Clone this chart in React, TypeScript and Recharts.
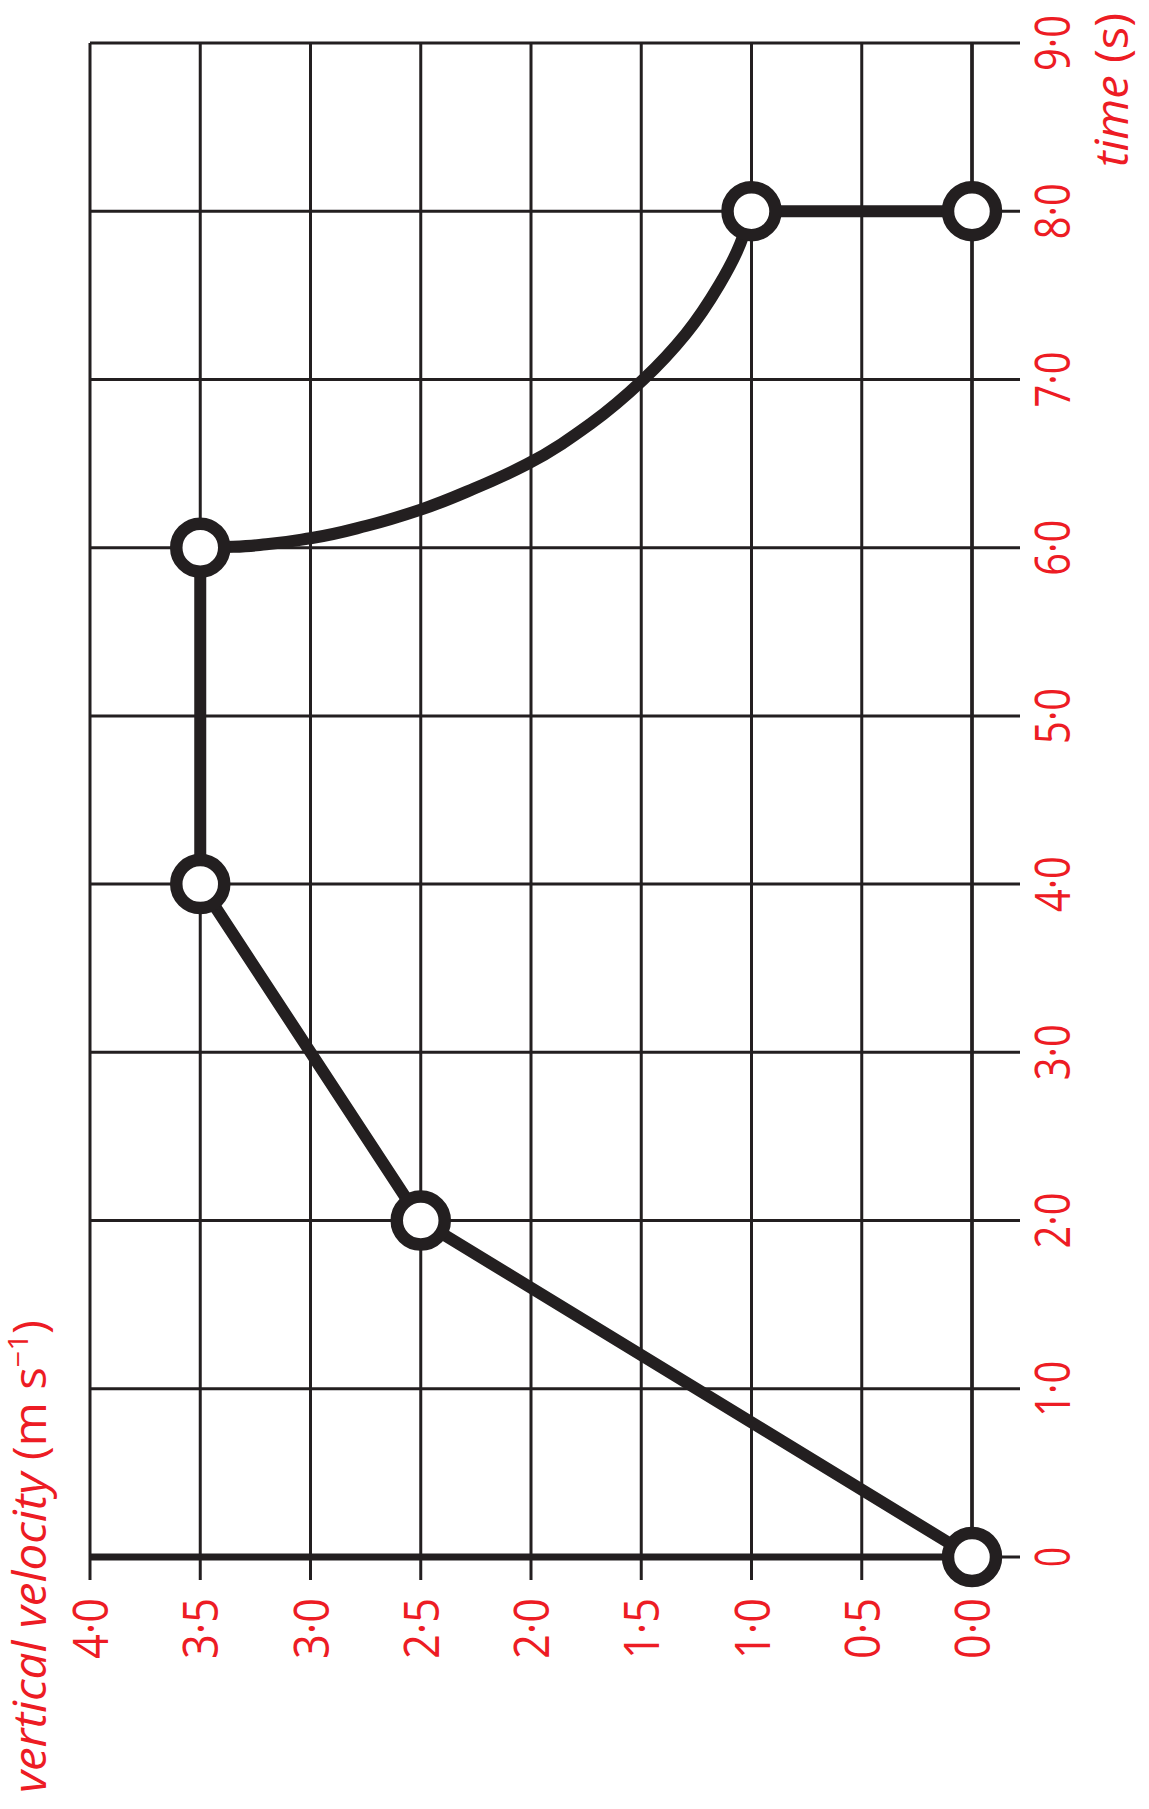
import React from 'react';
import { ComposedChart, Line, Scatter, XAxis, YAxis, CartesianGrid, Label } from 'recharts';

// time (s) along the original x axis, vertical velocity (m s-1) along y
const timeTicks = [0, 1, 2, 3, 4, 5, 6, 7, 8, 9];
const timeTickLabels = ['0', '1·0', '2·0', '3·0', '4·0', '5·0', '6·0', '7·0', '8·0', '9·0'];
const velocityTicks = [0, 0.5, 1, 1.5, 2, 2.5, 3, 3.5, 4];
const velocityTickLabels = ['0·0', '0·5', '1·0', '1·5', '2·0', '2·5', '3·0', '3·5', '4·0'];

const riseSeries = [
  { t: 0, v: 0 },
  { t: 2, v: 2.5 },
  { t: 4, v: 3.5 },
  { t: 6, v: 3.5 },
];

const decaySeries = [
  { t: 6.0, v: 3.5 },
  { t: 6.005, v: 3.35 },
  { t: 6.02, v: 3.2 },
  { t: 6.056, v: 3.0 },
  { t: 6.13, v: 2.745 },
  { t: 6.226, v: 2.5 },
  { t: 6.35, v: 2.26 },
  { t: 6.495, v: 2.02 },
  { t: 6.74, v: 1.726 },
  { t: 7.0, v: 1.49 },
  { t: 7.267, v: 1.3 },
  { t: 7.565, v: 1.145 },
  { t: 7.763, v: 1.065 },
  { t: 8.0, v: 1.0 },
];

const dropSeries = [
  { t: 8, v: 1.0 },
  { t: 8, v: 0 },
];

const markerPoints = [
  { t: 0, v: 0 },
  { t: 2, v: 2.5 },
  { t: 4, v: 3.5 },
  { t: 6, v: 3.5 },
  { t: 8, v: 1.0 },
  { t: 8, v: 0 },
];

const INK = '#231f20';
const RED = '#ed1c24';
const FONT = '"Open Sans", "Noto Sans", sans-serif';

const TimeTick = (props: any) => {
  const { x, y, payload } = props;
  const label = timeTickLabels[timeTicks.indexOf(payload.value)] ?? String(payload.value);
  return (
    <text
      x={x}
      y={y}
      dy={50}
      textAnchor="middle"
      fill={RED}
      fontSize={50}
      fontFamily={FONT}
      textLength={label.length > 1 ? 56 : 20}
      lengthAdjust="spacingAndGlyphs"
    >
      {label}
    </text>
  );
};

const VelocityTick = (props: any) => {
  const { x, y, payload } = props;
  const label = velocityTickLabels[velocityTicks.indexOf(payload.value)] ?? String(payload.value);
  return (
    <text
      x={x}
      y={y}
      dy={18}
      textAnchor="end"
      fill={RED}
      fontSize={50}
      fontFamily={FONT}
      textLength={61}
      lengthAdjust="spacingAndGlyphs"
    >
      {label}
    </text>
  );
};

const TimeTitle = (props: any) => {
  const vb = props.viewBox;
  return (
    <text
      x={vb.x + vb.width + 30}
      y={vb.y + 156}
      textAnchor="end"
      fill={RED}
      fontSize={46}
      fontFamily={FONT}
      textLength={154}
      lengthAdjust="spacingAndGlyphs"
    >
      <tspan fontStyle="italic">time</tspan>
      <tspan> (s)</tspan>
    </text>
  );
};

const VelocityTitle = (props: any) => {
  const vb = props.viewBox;
  return (
    <text
      x={16}
      y={vb.y - 44}
      textAnchor="start"
      fill={RED}
      fontSize={46}
      fontFamily={FONT}
      textLength={473}
      lengthAdjust="spacingAndGlyphs"
    >
      <tspan fontStyle="italic">vertical velocity</tspan>
      <tspan> (m s</tspan>
      <tspan fontSize={28} dy={-18}>−1</tspan>
      <tspan dy={18}>)</tspan>
    </text>
  );
};

const Marker = (props: any) => (
  <circle cx={props.cx} cy={props.cy} r={24} fill="#fff" stroke={INK} strokeWidth={12.5} />
);

const W = 1809;
const H = 1149;

export default function App() {
  return (
    <div style={{ position: 'absolute', left: 0, top: 0, width: H, height: W, background: '#fff' }}>
      <div
        style={{
          position: 'absolute',
          left: 0,
          top: 0,
          width: W,
          height: H,
          transformOrigin: '0 0',
          transform: `translate(0px, ${W}px) rotate(-90deg)`,
        }}
      >
        <ComposedChart width={W} height={H} margin={{ top: 90, right: 43, left: 0, bottom: 0 }}>
          <CartesianGrid stroke={INK} strokeWidth={3} strokeOpacity={1} />
          <XAxis
            type="number"
            dataKey="t"
            domain={[0, 9]}
            ticks={timeTicks}
            interval={0}
            height={177}
            tickSize={48}
            tickMargin={0}
            axisLine={{ stroke: INK, strokeWidth: 3.5 }}
            tickLine={{ stroke: INK, strokeWidth: 3 }}
            tick={<TimeTick />}
          >
            <Label content={<TimeTitle />} />
          </XAxis>
          <YAxis
            type="number"
            dataKey="v"
            domain={[0, 4]}
            ticks={velocityTicks}
            interval={0}
            width={252}
            tickSize={23}
            tickMargin={18}
            axisLine={{ stroke: INK, strokeWidth: 7 }}
            tickLine={{ stroke: INK, strokeWidth: 3 }}
            tick={<VelocityTick />}
          >
            <Label content={<VelocityTitle />} />
          </YAxis>
          <Line data={riseSeries} dataKey="v" type="linear" stroke={INK} strokeWidth={12} dot={false} activeDot={false} isAnimationActive={false} />
          <Line data={decaySeries} dataKey="v" type="monotone" stroke={INK} strokeWidth={12} dot={false} activeDot={false} isAnimationActive={false} />
          <Line data={dropSeries} dataKey="v" type="linear" stroke={INK} strokeWidth={12} dot={false} activeDot={false} isAnimationActive={false} />
          <Scatter data={markerPoints} dataKey="v" shape={<Marker />} isAnimationActive={false} />
        </ComposedChart>
      </div>
    </div>
  );
}
